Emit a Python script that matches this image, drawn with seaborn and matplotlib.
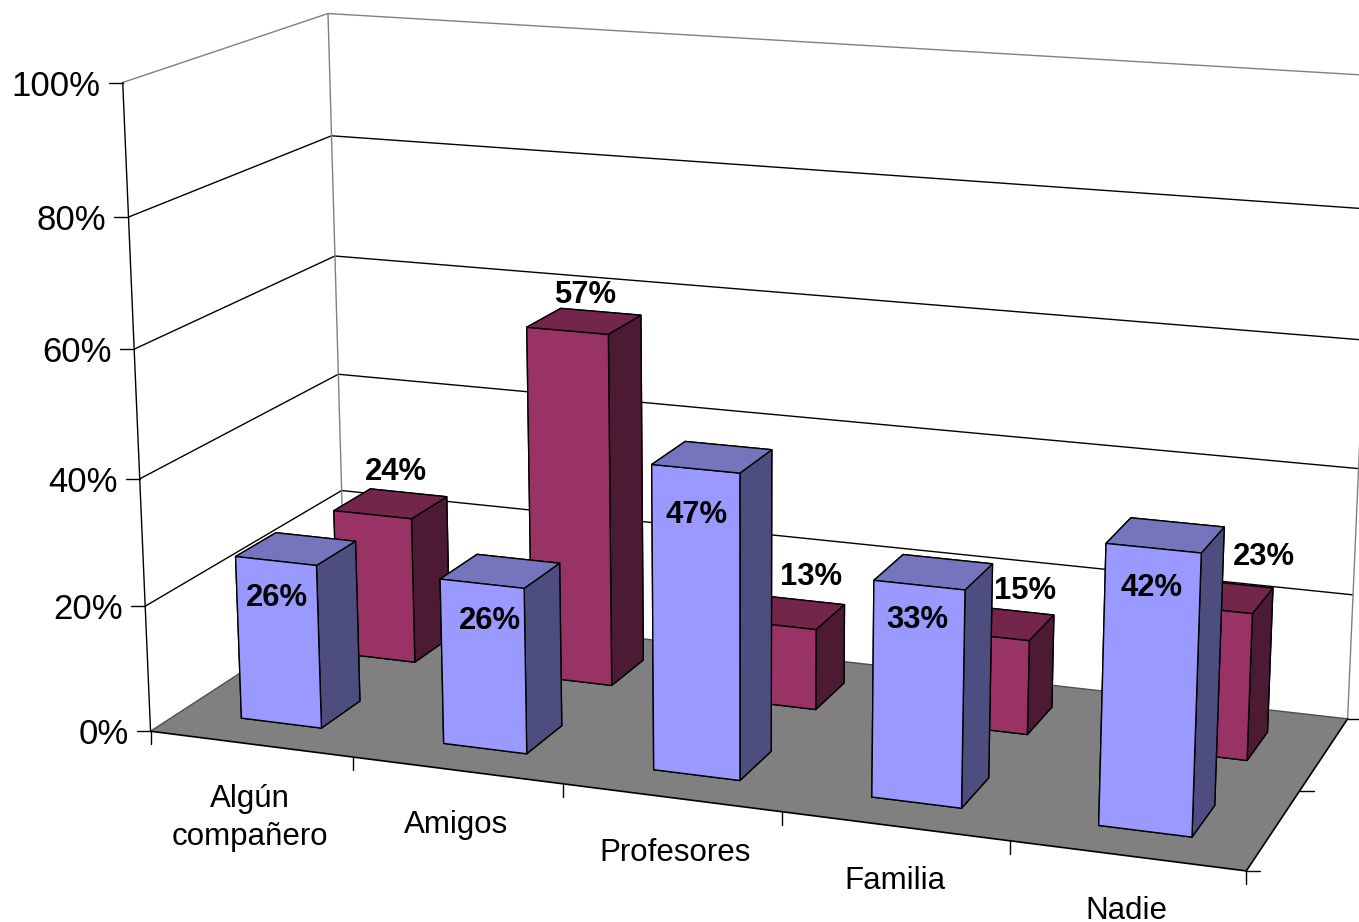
import numpy as np
import seaborn as sns
import matplotlib.pyplot as plt
from matplotlib.lines import Line2D
from mpl_toolkits.mplot3d.art3d import Poly3DCollection

categories = ['Algún\ncompañero', 'Amigos', 'Profesores', 'Familia', 'Nadie']
front_values = [26, 26, 47, 33, 42]
back_values = [24, 57, 13, 15, 23]
z_ticks = [0, 20, 40, 60, 80, 100]

front_colors = ['#9999FF', '#7575BD', '#4D4D80']
back_colors = ['#993366', '#732649', '#4D1A33']

WIDTH, HEIGHT = 1359, 922

# perspective view of the old spreadsheet chart: (category, depth, percent) -> pixel
CAMERA = np.array([
    [195.9893534, 229.5938233, -0.3332938, 150.5496949],
    [11.7533459, -64.4916826, -6.5244138, 731.2433791],
    [-0.0185824, 0.1021699, -0.0004485, 1.0],
])


def to_pixel(x, y, z):
    p = CAMERA @ np.array([x, y, z, 1.0])
    return p[0] / p[2], p[1] / p[2]


def view_matrix():
    # camera pixels -> the 2D limits of the 3D axes
    (x0, x1), (y0, y1) = ax.viewLim.intervalx, ax.viewLim.intervaly
    sx, sy = (x1 - x0) / WIDTH, -(y1 - y0) / HEIGHT
    m = np.zeros((4, 4))
    m[0] = sx * CAMERA[0] + x0 * CAMERA[2]
    m[1] = sy * CAMERA[1] + y1 * CAMERA[2]
    m[2] = [0, 0, 0, -1]  # depth grows with distance from the camera
    m[3] = CAMERA[2]
    return m


def pixel_line(xs, ys, **kw):
    fig.add_artist(Line2D(np.array(xs) / WIDTH, 1 - np.array(ys) / HEIGHT, **kw))


def pixel_text(x, y, s, **kw):
    fig.text(x / WIDTH, 1 - y / HEIGHT, s, **kw)


def draw_row(values, y0, colors, zorder):
    front, top, side = colors
    # bar3d face order: bottom, top, front, back, left, right
    faces = [side, top, front, side, side, side]
    for i, v in enumerate(values):
        ax.bar3d(i + 0.3, y0, 0, 0.4, 0.2, v, color=faces, shade=False,
                 edgecolor='black', linewidth=1, zorder=zorder + i)


sns.set_theme(style='white')
plt.rcParams['font.family'] = ['Liberation Sans', 'DejaVu Sans']

fig = plt.figure(figsize=(WIDTH / 100, HEIGHT / 100), dpi=100)
ax = fig.add_axes([0, 0, 1, 1], projection='3d', computed_zorder=False)
ax.set_axis_off()
ax.apply_aspect = lambda position=None: None
ax.get_proj = view_matrix

n = len(categories)
floor = [[(0, 0, 0), (n, 0, 0), (n, 1, 0), (0, 1, 0)]]
ax.add_collection3d(Poly3DCollection(floor, facecolor='#808080', edgecolor='none', zorder=1))

# walls
for t in z_ticks:
    col = '#808080' if t == 100 else 'black'
    if t == 0:
        col = '#505050'
    ax.plot([0, 0, n], [0, 1, 1], [t, t, t], color=col, lw=1, zorder=2)
ax.plot([0, 0], [1, 1], [0, 100], color='#808080', lw=1, zorder=2)
ax.plot([n, n], [1, 1], [0, 100], color='#808080', lw=1, zorder=2)
ax.plot([0, 0], [0, 0], [0, 100], color='black', lw=1, zorder=2)
ax.plot([0, n, n], [0, 0, 1], [0, 0, 0], color='black', lw=1.2, zorder=2)

draw_row(back_values, 0.65, back_colors, 10)
draw_row(front_values, 0.15, front_colors, 20)

# value axis ticks and labels
for t in z_ticks:
    px, py = to_pixel(0, 0, t)
    pixel_line([px - 14, px], [py, py], color='black', lw=1)
    pixel_text(px - 22, py + 3.5, f'{t}%', ha='right', va='center', fontsize=25, color='black')

# category ticks and labels
for i in range(n + 1):
    px, py = to_pixel(i, 0, 0)
    pixel_line([px, px], [py, py + 13], color='black', lw=1)
for d in [0, 0.5, 1]:
    px, py = to_pixel(n, d, 0)
    pixel_line([px, px + 14], [py, py], color='black', lw=1)
label_nudge = [-1, -1, 3, 0, 0]
for i, c in enumerate(categories):
    px, py = to_pixel(i + 0.5, 0, 0)
    pixel_text(px + label_nudge[i], py + 40, c, ha='center', va='top', fontsize=22.5,
               color='black', linespacing=1.35)

# data labels
front_label_xy = [(277, 598), (490, 621), (697, 515), (917, 620), (1152, 588)]
back_label_xy = [(396, 472), (585, 295), (811, 577), (1025, 591), (1264, 557)]
for vals, xy in [(front_values, front_label_xy), (back_values, back_label_xy)]:
    for v, (px, py) in zip(vals, xy):
        pixel_text(px, py, f'{v}%', ha='center', va='center', fontsize=22.3,
                   fontweight='bold', color='black')

fig.savefig('out.png', dpi=100)
plt.close(fig)
